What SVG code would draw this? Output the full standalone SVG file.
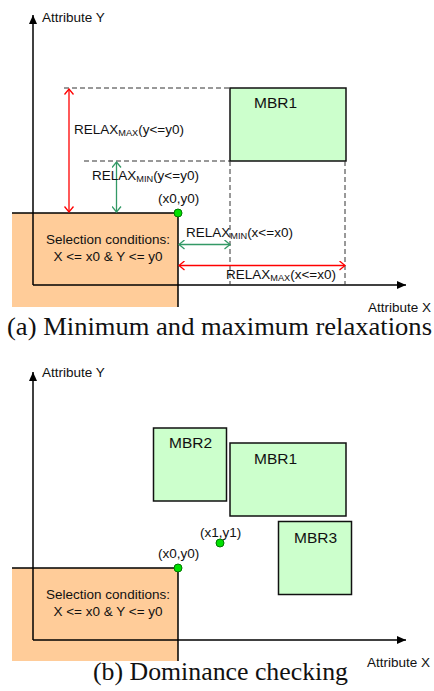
<svg xmlns="http://www.w3.org/2000/svg" width="434" height="691" viewBox="0 0 434 691">
<style>
.t{font-family:"Liberation Sans",Arial,sans-serif;fill:#111}
.lab{font-size:13.5px}
.big{font-size:15.5px}
.sub{font-size:9.2px}
.mid{text-anchor:middle}
.cap{font-family:"Liberation Serif","DejaVu Serif",serif;font-size:25px;fill:#111}
.axis{stroke:#000;stroke-width:1.5;fill:none}
.sel{fill:#FFCC99;stroke:none}
.selb{stroke:#000;stroke-width:1.5;fill:none}
.mbr{fill:#CCFFCC;stroke:#111;stroke-width:1.5}
.dash{stroke:#333;stroke-width:1;stroke-dasharray:5,3;fill:none}
.red{stroke:#FF0000;stroke-width:1.3;fill:none}
.grn{stroke:#339966;stroke-width:1.3;fill:none}
.dot{fill:#00E000;stroke:#007700;stroke-width:1}
</style>
<defs>
<marker id="axisArrow" markerUnits="userSpaceOnUse" markerWidth="9" markerHeight="8" viewBox="0 0 9 8" refX="9" refY="4" orient="auto"><path d="M0,0 L9,4 L0,8 Z" fill="#000"/></marker>
<marker id="redArrow" markerUnits="userSpaceOnUse" markerWidth="7" markerHeight="10" viewBox="0 0 7 10" refX="6" refY="5" orient="auto-start-reverse"><path d="M0.5,0.5 L6,5 L0.5,9.5" fill="none" stroke="#FF0000" stroke-width="1.3"/></marker>
<marker id="grnArrow" markerUnits="userSpaceOnUse" markerWidth="7" markerHeight="10" viewBox="0 0 7 10" refX="6" refY="5" orient="auto-start-reverse"><path d="M0.5,0.5 L6,5 L0.5,9.5" fill="none" stroke="#339966" stroke-width="1.3"/></marker>
</defs>

<!-- Panel (a) -->
<g id="a-selection">
<rect class="sel" x="12" y="213" width="166" height="94"/>
<path class="selb" d="M12,213 H178 V307"/>
<text class="t lab mid" x="108" y="244">Selection conditions:</text>
<text class="t lab mid" x="108" y="261">X &lt;= x0 &amp; Y &lt;= y0</text>
</g>
<g id="a-mbr1">
<rect class="mbr" x="230" y="88" width="116" height="73"/>
<text class="t big" x="254" y="108">MBR1</text>
</g>
<g id="a-connectors">
<line class="axis" x1="33" y1="285" x2="33" y2="15" marker-end="url(#axisArrow)"/>
<line class="axis" x1="33" y1="285" x2="406" y2="285" marker-end="url(#axisArrow)"/>
<line class="dash" x1="64" y1="88" x2="230" y2="88"/>
<line class="dash" x1="84" y1="161" x2="230" y2="161"/>
<line class="dash" x1="230" y1="161" x2="230" y2="285"/>
<line class="dash" x1="345" y1="161" x2="345" y2="285"/>
<line class="red" x1="69" y1="89" x2="69" y2="212" marker-start="url(#redArrow)" marker-end="url(#redArrow)"/>
<line class="grn" x1="116.5" y1="162" x2="116.5" y2="212" marker-start="url(#grnArrow)" marker-end="url(#grnArrow)"/>
<line class="grn" x1="179" y1="244.5" x2="230" y2="244.5" marker-start="url(#grnArrow)" marker-end="url(#grnArrow)"/>
<line class="red" x1="179" y1="265.5" x2="345" y2="265.5" marker-start="url(#redArrow)" marker-end="url(#redArrow)"/>
</g>
<g id="a-labels">
<text class="t lab" x="42" y="22">Attribute Y</text>
<text class="t lab" x="368" y="312">Attribute X</text>
<text class="t lab" x="74" y="134">RELAX<tspan class="sub" dy="1.5">MAX</tspan><tspan dy="-1.5">(y&lt;=y0)</tspan></text>
<text class="t lab" x="92" y="180">RELAX<tspan class="sub" dy="1.5">MIN</tspan><tspan dy="-1.5">(y&lt;=y0)</tspan></text>
<text class="t lab" x="186" y="237">RELAX<tspan class="sub" dy="1.5">MIN</tspan><tspan dy="-1.5">(x&lt;=x0)</tspan></text>
<text class="t lab" x="226" y="279">RELAX<tspan class="sub" dy="1.5">MAX</tspan><tspan dy="-1.5">(x&lt;=x0)</tspan></text>
</g>
<g id="a-point">
<circle class="dot" cx="178" cy="213" r="4"/>
<text class="t lab" x="158" y="203">(x0,y0)</text>
</g>
<text class="cap" x="7" y="335" textLength="425" lengthAdjust="spacingAndGlyphs">(a) Minimum and maximum relaxations</text>

<!-- Panel (b) -->
<g id="b-selection">
<rect class="sel" x="12" y="568" width="166" height="93"/>
<path class="selb" d="M12,568 H178 V661"/>
<text class="t lab mid" x="108" y="599">Selection conditions:</text>
<text class="t lab mid" x="108" y="616">X &lt;= x0 &amp; Y &lt;= y0</text>
</g>
<g id="b-mbr2">
<rect class="mbr" x="153.5" y="428" width="73" height="73"/>
<text class="t big" x="169" y="448">MBR2</text>
</g>
<g id="b-mbr1">
<rect class="mbr" x="230" y="443" width="116" height="73"/>
<text class="t big" x="254" y="464">MBR1</text>
</g>
<g id="b-mbr3">
<rect class="mbr" x="278.5" y="521.5" width="73" height="73"/>
<text class="t big" x="294" y="543">MBR3</text>
</g>
<g id="b-connectors">
<line class="axis" x1="33" y1="640" x2="33" y2="372" marker-end="url(#axisArrow)"/>
<line class="axis" x1="33" y1="640" x2="406" y2="640" marker-end="url(#axisArrow)"/>
</g>
<g id="b-labels">
<text class="t lab" x="42" y="377">Attribute Y</text>
<text class="t lab" x="367" y="667">Attribute X</text>
</g>
<g id="b-point0">
<circle class="dot" cx="178" cy="568" r="4"/>
<text class="t lab" x="158" y="558">(x0,y0)</text>
</g>
<g id="b-point1">
<circle class="dot" cx="220" cy="543" r="4"/>
<text class="t lab" x="200" y="537">(x1,y1)</text>
</g>
<text class="cap" x="93" y="680" textLength="255" lengthAdjust="spacingAndGlyphs">(b) Dominance checking</text>
</svg>
